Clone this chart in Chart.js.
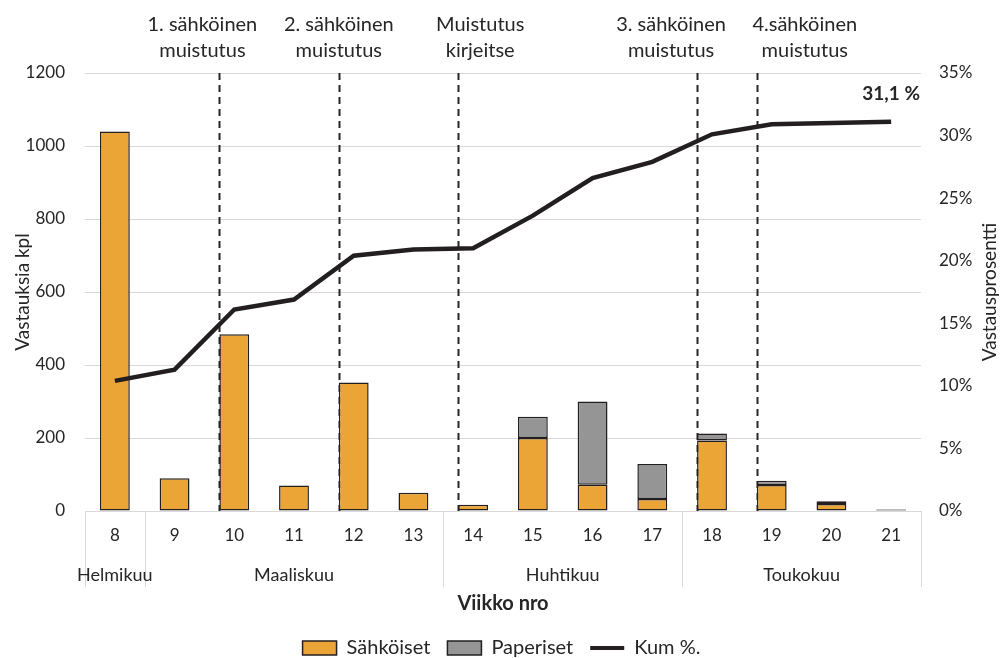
<!DOCTYPE html>
<html>
<head>
<meta charset="utf-8">
<script src="https://cdn.jsdelivr.net/npm/chart.js@4.4.1/dist/chart.umd.min.js"></script>
<style>
  html, body { margin: 0; padding: 0; background: #fff; }
  #wrap { width: 1003px; height: 658px; }
</style>
</head>
<body>
<div id="wrap"><canvas id="chart"></canvas></div>
<script>
'use strict';

let weeks = ['8', '9', '10', '11', '12', '13', '14', '15', '16', '17', '18', '19', '20', '21'];
let electronic = [1040, 90, 484, 70, 352, 50, 17, 200, 72, 33, 193, 71, 19, 4];
let paper = [null, null, null, null, null, null, null, 58, 228, 96, 19, 12, 8, 1];
let cumulative = [10.4, 11.3, 16.1, 16.9, 20.4, 20.9, 21.0, 23.6, 26.6, 27.9, 30.1, 30.9, 31.0, 31.1];

let months = ['Helmikuu', 'Maaliskuu', 'Huhtikuu', 'Toukokuu'];
let weeksPerMonth = [1, 5, 4, 4];

let reminderWeeks = ['10', '12', '14', '18', '19'];
let reminderTexts = [
  ['1. sähköinen', 'muistutus'],
  ['2. sähköinen', 'muistutus'],
  ['Muistutus', 'kirjeitse'],
  ['3. sähköinen', 'muistutus'],
  ['4.sähköinen', 'muistutus']
];
// text sits a little off its dashed line, like in the original
let reminderShift = [-17, 0, 22, -26, 48];

let countMax = 1200;
let countStep = 200;
let percentMax = 35;
let percentStep = 5;

const textColor = '#262626';
const gridColor = '#d9d9d9';

Chart.defaults.font.family = 'Lato';
Chart.defaults.color = textColor;

let extras = {
  id: 'extras',
  beforeDatasetsDraw(chart) {
    let ctx = chart.ctx;
    let area = chart.chartArea;
    let meta = chart.getDatasetMeta(0);
    ctx.save();
    ctx.strokeStyle = '#262626';
    ctx.lineWidth = 2;
    ctx.setLineDash([7, 5]);
    reminderWeeks.forEach(w => {
      let bar = meta.data[weeks.indexOf(w)];
      let x = Math.round(bar.x - bar.width / 2) + 0.5;
      ctx.beginPath();
      ctx.moveTo(x, area.top);
      ctx.lineTo(x, area.bottom);
      ctx.stroke();
    });
    ctx.restore();
  },
  afterDraw(chart) {
    let ctx = chart.ctx;
    let area = chart.chartArea;
    let xScale = chart.scales.x;
    let meta = chart.getDatasetMeta(0);
    ctx.save();

    // month groups under the week numbers
    ctx.strokeStyle = gridColor;
    ctx.lineWidth = 1;
    let edges = [area.left];
    let idx = 0;
    weeksPerMonth.forEach((n, i) => {
      idx += n;
      if (i === weeksPerMonth.length - 1) {
        edges.push(area.right);
      } else {
        edges.push((xScale.getPixelForValue(idx - 1) + xScale.getPixelForValue(idx)) / 2);
      }
    });
    edges.forEach(e => {
      let x = Math.round(e) + 0.5;
      ctx.beginPath();
      ctx.moveTo(x, area.bottom);
      ctx.lineTo(x, area.bottom + 76);
      ctx.stroke();
    });
    ctx.fillStyle = textColor;
    ctx.font = '18px Lato';
    ctx.textAlign = 'center';
    ctx.textBaseline = 'middle';
    months.forEach((m, i) => {
      ctx.fillText(m, (edges[i] + edges[i + 1]) / 2, area.bottom + 64);
    });

    // reminder labels above the plot
    ctx.font = '20px Lato';
    reminderWeeks.forEach((w, i) => {
      let bar = meta.data[weeks.indexOf(w)];
      let x = bar.x - bar.width / 2 + reminderShift[i];
      ctx.fillText(reminderTexts[i][0], x, 25);
      ctx.fillText(reminderTexts[i][1], x, 51);
    });

    // right axis title reads bottom to top
    let y1 = chart.scales.y1;
    ctx.save();
    ctx.font = '19px Lato';
    ctx.translate(990, (y1.top + y1.bottom) / 2);
    ctx.rotate(-Math.PI / 2);
    ctx.fillText('Vastausprosentti', 0, 0);
    ctx.restore();

    // final cumulative value
    let lineMeta = chart.getDatasetMeta(2);
    let last = lineMeta.data[lineMeta.data.length - 1];
    let lastVal = cumulative[cumulative.length - 1];
    ctx.font = 'bold 19px Lato';
    ctx.fillText(lastVal.toFixed(1).replace('.', ',') + ' %', last.x, last.y - 28);
    ctx.restore();
  }
};

let ctx = document.getElementById('chart').getContext('2d');
let myChart = new Chart(ctx, {
  type: 'bar',
  data: {
    labels: weeks,
    datasets: [{
      label: 'Sähköiset',
      data: electronic,
      backgroundColor: '#eba536',
      borderColor: '#231f20',
      borderWidth: 1.5,
      borderSkipped: false,
      barPercentage: 0.5,
      categoryPercentage: 1,
      yAxisID: 'y',
      order: 1
    }, {
      label: 'Paperiset',
      data: paper,
      backgroundColor: '#959595',
      borderColor: '#231f20',
      borderWidth: 1.5,
      borderSkipped: false,
      barPercentage: 0.5,
      categoryPercentage: 1,
      yAxisID: 'y',
      order: 1
    }, {
      type: 'line',
      label: 'Kum %.',
      data: cumulative,
      borderColor: '#231f20',
      backgroundColor: '#231f20',
      borderWidth: 4.5,
      pointRadius: 0,
      tension: 0,
      yAxisID: 'y1',
      order: 0
    }]
  },
  options: {
    responsive: true,
    maintainAspectRatio: false,
    animation: false,
    layout: { padding: { top: 73, left: 0, right: 0, bottom: -10 } },
    plugins: {
      tooltip: { enabled: false },
      legend: {
        position: 'bottom',
        labels: {
          usePointStyle: true,
          pointStyleWidth: 34,
          boxHeight: 14,
          padding: 2,
          color: textColor,
          font: { size: 20 },
          generateLabels(chart) {
            let items = Chart.defaults.plugins.legend.labels.generateLabels(chart);
            items.sort((a, b) => a.datasetIndex - b.datasetIndex);
            items.forEach(it => {
              if (it.datasetIndex === 2) {
                it.pointStyle = 'line';
                it.lineWidth = 4;
                it.strokeStyle = '#231f20';
              } else {
                it.pointStyle = 'rect';
                it.lineWidth = 1.5;
                // wider gap before the next legend item
                it.text = it.text + '\u2003';
              }
            });
            return items;
          }
        }
      }
    },
    scales: {
      x: {
        stacked: true,
        grid: { display: false, drawTicks: false },
        border: { display: false },
        ticks: { font: { size: 17 }, padding: 14, maxRotation: 0 },
        title: {
          display: true,
          text: 'Viikko nro',
          font: { size: 20, weight: 'bold' },
          padding: { top: 0, bottom: 20 }
        },
        afterFit(scale) { scale.height = 125; }
      },
      y: {
        stacked: true,
        position: 'left',
        min: 0,
        max: countMax,
        grid: { color: gridColor, drawTicks: false },
        border: { display: false },
        ticks: { stepSize: countStep, font: { size: 17 }, padding: 20, callback: v => String(v) },
        title: {
          display: true,
          text: 'Vastauksia kpl',
          font: { size: 19 },
          padding: { top: 11, bottom: 0 }
        },
        afterFit(scale) { scale.width = 85; }
      },
      y1: {
        position: 'right',
        min: 0,
        max: percentMax,
        grid: { display: false, drawTicks: false },
        border: { display: false },
        ticks: {
          stepSize: percentStep,
          font: { size: 17 },
          padding: 18,
          callback: v => v + '%'
        },
        afterFit(scale) { scale.width = 82; }
      }
    }
  },
  plugins: [extras]
});
</script>
</body>
</html>
